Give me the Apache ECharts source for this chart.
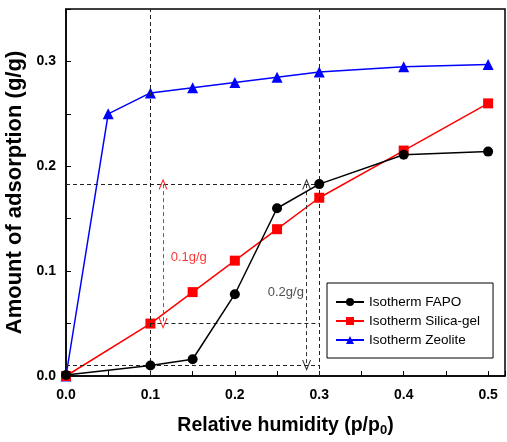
<!DOCTYPE html>
<html><head><meta charset="utf-8">
<script src="https://cdn.jsdelivr.net/npm/echarts@6/dist/echarts.min.js"></script>
<style>html,body{margin:0;padding:0;background:#fff}#c{width:507px;height:442px}</style>
</head><body><div id="c"></div>
<script>
// data
const fapoX = [0, 0.1, 0.15, 0.2, 0.25, 0.3, 0.4, 0.5];
const fapoY = [0.001, 0.01, 0.016, 0.078, 0.16, 0.183, 0.211, 0.214];
const silicaX = [0, 0.1, 0.15, 0.2, 0.25, 0.3, 0.4, 0.5];
const silicaY = [0, 0.05, 0.08, 0.11, 0.14, 0.17, 0.215, 0.26];
const zeoliteX = [0, 0.05, 0.1, 0.15, 0.2, 0.25, 0.3, 0.4, 0.5];
const zeoliteY = [0, 0.25, 0.27, 0.275, 0.28, 0.285, 0.29, 0.295, 0.297];
const seriesNames = ['Isotherm FAPO', 'Isotherm Silica-gel', 'Isotherm Zeolite'];
// guide lines [x1,y1,x2,y2]
const guideLines = [
  [0.1, 0, 0.1, 0.35],
  [0.3, 0, 0.3, 0.35],
  [0, 0.183, 0.3, 0.183],
  [0.1, 0.05, 0.3, 0.05],
  [0, 0.01, 0.3, 0.01]
];
const redArrow = [0.115, 0.183, 0.115, 0.05];
const blackArrow = [0.285, 0.183, 0.285, 0.01];
const annoRed = {text: '0.1g/g', x: 0.124, y: 0.113};
const annoBlack = {text: '0.2g/g', x: 0.239, y: 0.08};

const zip = (xs, ys) => xs.map((x, i) => [x, ys[i]]);
const arrowSym = 'path://M0,10 L5,0 L10,10 L8.8,10 L5,2.4 L1.2,10 Z';
const FONT = 'Liberation Sans, Arial, sans-serif';

const chart = echarts.init(document.getElementById('c'));
chart.setOption({
  animation: false,
  grid: {left: 66, right: 2, top: 9, bottom: 66, outerBoundsMode: 'none', containLabel: false,
    show: true, borderColor: '#000', borderWidth: 1.5, backgroundColor: 'transparent'},
  legend: {
    data: seriesNames, orient: 'vertical', left: 327, top: 283,
    width: 165, itemWidth: 28, itemHeight: 10, itemGap: 5,
    padding: [12, 13, 11, 8], borderColor: '#000', borderWidth: 1,
    textStyle: {fontFamily: FONT, fontSize: 13.5, color: '#000'}
  },
  xAxis: {
    type: 'value', min: 0, max: 0.52, interval: 0.1,
    name: 'Relative humidity (p/p{sub|0})', nameLocation: 'middle', nameGap: 39,
    nameTextStyle: {fontFamily: FONT, fontSize: 19.5, fontWeight: 'bold', color: '#000',
      rich: {sub: {fontFamily: FONT, fontSize: 13, fontWeight: 'bold', color: '#000', verticalAlign: 'bottom', padding: [9, 0, 0, 0]}}},
    axisLine: {show: true, lineStyle: {color: '#000', width: 1.5}},
    axisTick: {show: true, inside: true, length: 5, lineStyle: {color: '#000', width: 1}},
    minorTick: {show: true, splitNumber: 2, length: 5, lineStyle: {color: '#000'}},
    splitLine: {show: false},
    axisLabel: {fontFamily: FONT, fontSize: 14, fontWeight: 'bold', color: '#000', margin: 12,
      showMaxLabel: false, formatter: v => v.toFixed(1)}
  },
  yAxis: {
    type: 'value', min: 0, max: 0.35, interval: 0.1,
    name: 'Amount of adsorption (g/g)', nameLocation: 'middle', nameGap: 33,
    nameTextStyle: {fontFamily: FONT, fontSize: 22, fontWeight: 'bold', color: '#000'},
    axisLine: {show: true, lineStyle: {color: '#000', width: 1.5}},
    axisTick: {show: true, inside: true, length: 5, lineStyle: {color: '#000', width: 1}},
    minorTick: {show: true, splitNumber: 2, length: 5, lineStyle: {color: '#000'}},
    splitLine: {show: false},
    axisLabel: {fontFamily: FONT, fontSize: 14, fontWeight: 'bold', color: '#000', margin: 10,
      showMaxLabel: false, formatter: v => v.toFixed(1)}
  },
  series: [
    {
      name: 'guides', type: 'line', data: [], silent: true,
      markLine: {
        silent: true, symbol: ['none', 'none'], animation: false,
        lineStyle: {type: [4, 3], color: '#222', width: 1}, label: {show: false},
        data: guideLines.map(g => [{coord: [g[0], g[1]]}, {coord: [g[2], g[3]]}])
      },
      z: 1
    },
    {
      name: 'redArrow', type: 'line', data: [], silent: true,
      markLine: {
        silent: true, symbol: [arrowSym, arrowSym], symbolSize: [9, 11], animation: false,
        label: {show: false},
        lineStyle: {type: [4, 3], color: '#ff2020', width: 1},
        itemStyle: {color: '#ff2020'},
        data: [[{coord: [redArrow[0], redArrow[1]]}, {coord: [redArrow[2], redArrow[3]]}]]
      },
      z: 1
    },
    {
      name: 'blackArrow', type: 'line', data: [], silent: true,
      markLine: {
        silent: true, symbol: [arrowSym, arrowSym], symbolSize: [9, 11], animation: false,
        label: {show: false},
        lineStyle: {type: [4, 3], color: '#333', width: 1},
        itemStyle: {color: '#333'},
        data: [[{coord: [blackArrow[0], blackArrow[1]]}, {coord: [blackArrow[2], blackArrow[3]]}]]
      },
      z: 1
    },
    {
      name: 'anno', type: 'scatter', silent: true, symbolSize: 0,
      data: [
        {value: [annoRed.x, annoRed.y], label: {show: true, position: 'right', offset: [-5, 0], formatter: annoRed.text, color: '#ff0000', fontFamily: FONT, fontSize: 13}},
        {value: [annoBlack.x, annoBlack.y], label: {show: true, position: 'right', offset: [-5, 0], formatter: annoBlack.text, color: '#222', fontFamily: FONT, fontSize: 13}}
      ],
      z: 1
    },
    {
      name: seriesNames[2], type: 'line', data: zip(zeoliteX, zeoliteY),
      symbol: 'triangle', symbolSize: 11, color: '#0000ff', lineStyle: {width: 1.5}, z: 3
    },
    {
      name: seriesNames[1], type: 'line', data: zip(silicaX, silicaY),
      symbol: 'rect', symbolSize: 10, color: '#ff0000', lineStyle: {width: 1.5}, z: 4
    },
    {
      name: seriesNames[0], type: 'line', data: zip(fapoX, fapoY),
      symbol: 'circle', symbolSize: 10, color: '#000000', lineStyle: {width: 1.5}, z: 5
    }
  ]
});
</script></body></html>
